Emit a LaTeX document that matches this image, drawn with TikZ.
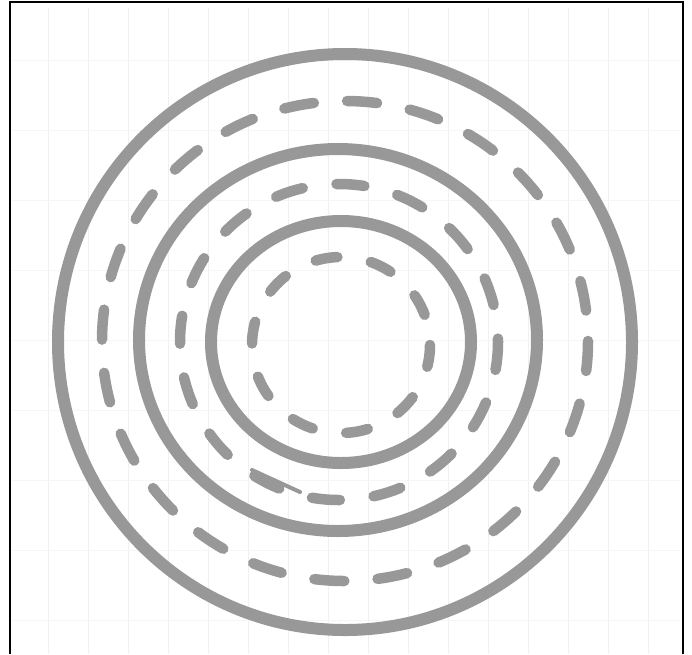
\documentclass[tikz,border=0pt]{standalone}
\usetikzlibrary{calc}
\definecolor{ink}{RGB}{152,152,152}
\definecolor{gridc}{RGB}{240,240,240}
\definecolor{gridh}{RGB}{246,246,246}
\begin{document}
\begin{tikzpicture}[x=1pt,y=-1pt,
  solidring/.style={draw=ink,line width=12pt},
  dashring/.style={draw=ink,line width=10.5pt,line cap=round},
  gridline/.style={draw=gridc,line width=0.8pt},
  gridhline/.style={draw=gridh,line width=0.8pt},
  frameline/.style={draw=black,line width=2pt}]
\useasboundingbox (0,0) rectangle (692,654);
\fill[white] (0,0) rectangle (692,654);
% faint grid paper
\foreach \gx in {48,88,128,168,208,248,288,328,368,408,448,488,528,568,608,648}
  \draw[gridline] (\gx,8) -- (\gx,654);
\foreach \gy in {60,130,200,270,340,410,480,550,620}
  \draw[gridhline] (12,\gy) -- (680,\gy);
% frame
\coordinate (fbl) at (10,654);
\coordinate (ftl) at (10,2);
\coordinate (ftr) at (683,2);
\coordinate (fbr) at (683,654);
\draw[frameline] (fbl) -- (ftl) -- (ftr) -- (fbr);
% centres
\coordinate (c1) at (345,342);
\coordinate (c2) at (345,341);
\coordinate (c3) at (338,340);
\coordinate (c4) at (339,342);
\coordinate (c5) at (341,342);
\coordinate (c6) at (341,345);
% rings
\draw[solidring] (c1) circle [x radius=287, y radius=288];
\draw[dashring,dash pattern=on 30pt off 33.35pt] (c2) circle [x radius=243, y radius=240];
\draw[solidring] (c3) circle [x radius=199, y radius=191];
\draw[dashring,dash pattern=on 28pt off 34.04pt] (c4) circle [x radius=159, y radius=158];
\draw[solidring] (c5) circle [x radius=130, y radius=121];
\draw[dashring,dash pattern=on 22pt off 33.92pt] (c6) circle [x radius=89, y radius=88];
% stray stroke tail of the middle ring
\coordinate (t1) at (252,470);
\coordinate (t2) at (300,492);
\draw[draw=ink,line width=4pt,line cap=round] (t1) -- (t2);
\end{tikzpicture}
\end{document}
